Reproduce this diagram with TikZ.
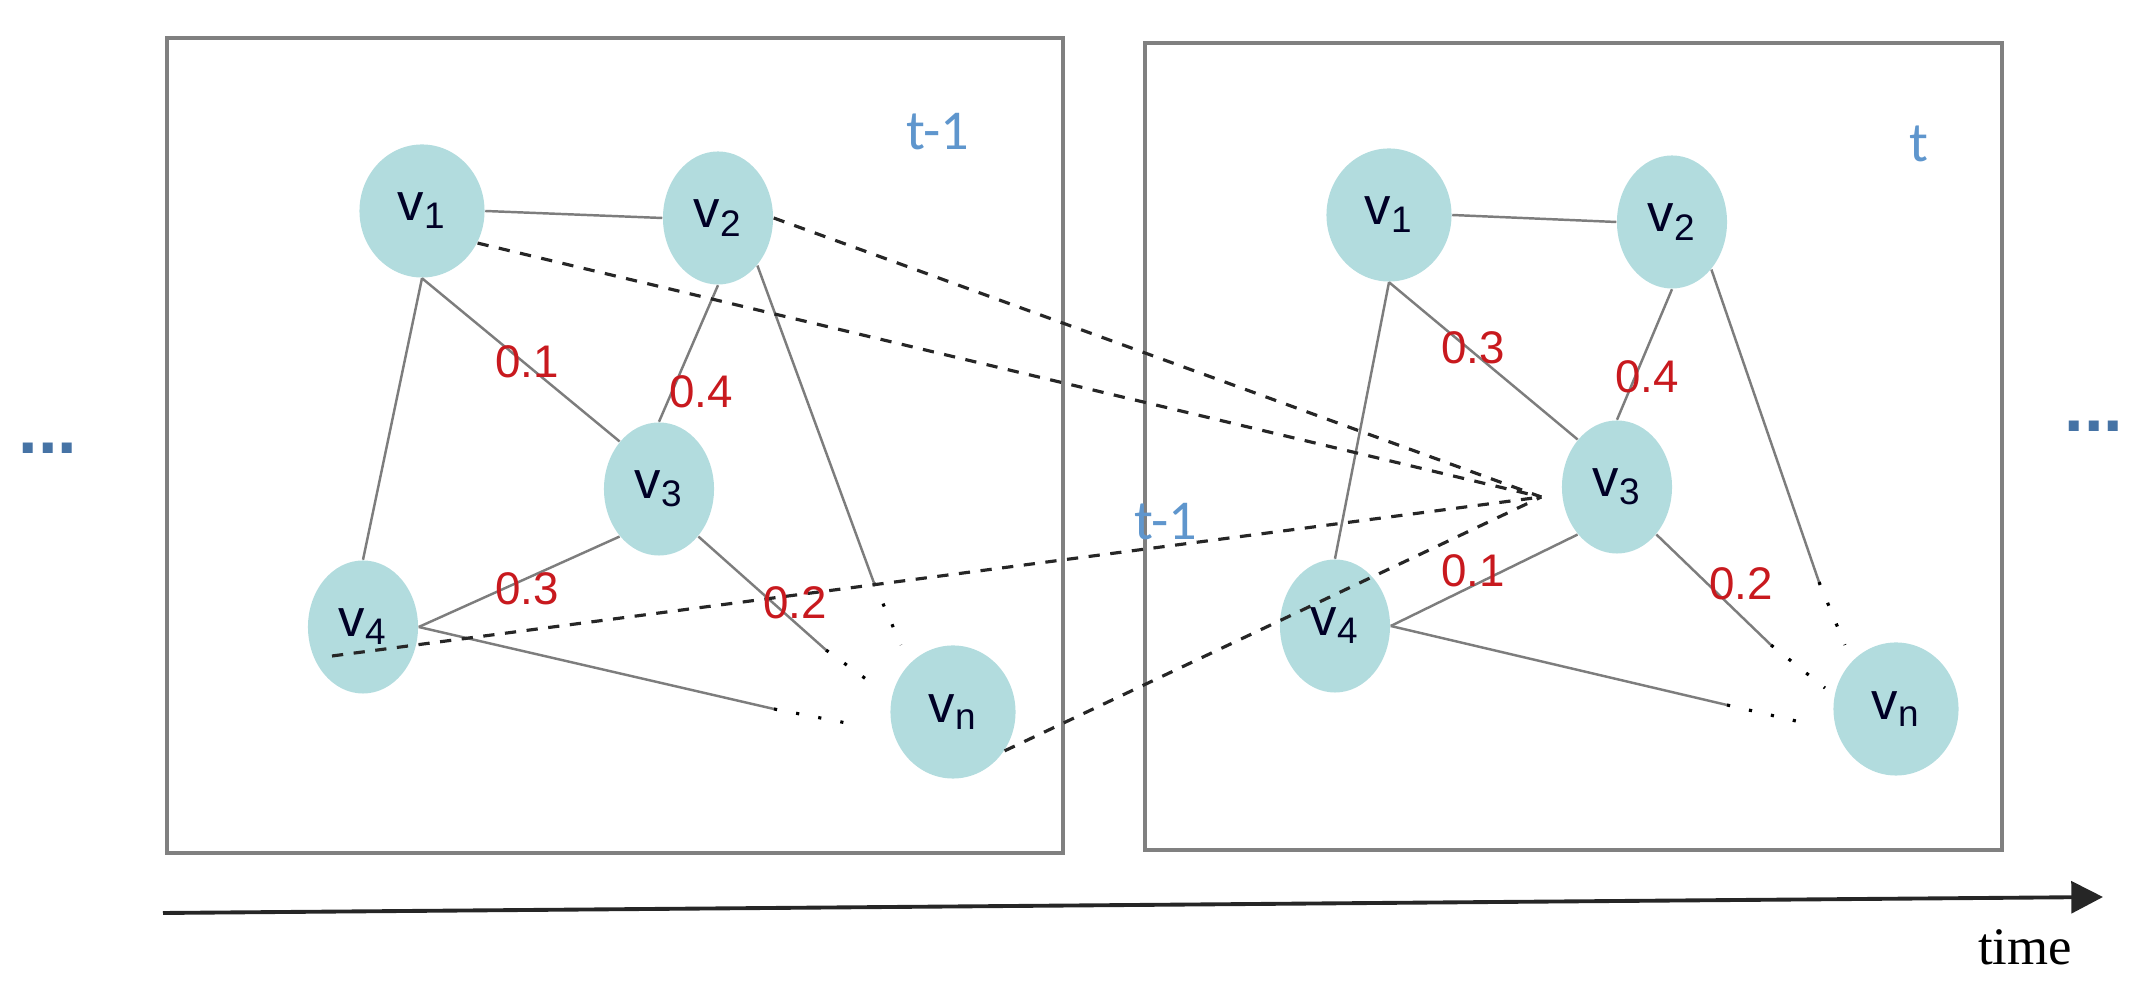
\documentclass[tikz,border=0pt]{standalone}
\usepackage{fontspec}
\setmainfont{Liberation Sans}
\newfontfamily\serifface{Liberation Serif}
\newfontfamily\stepface{Carlito}
\usepackage{xcolor}
\usetikzlibrary{calc,shapes,positioning,arrows.meta}

\definecolor{nodefill}{RGB}{178,220,222}
\definecolor{edgegray}{RGB}{125,125,125}
\definecolor{framegray}{RGB}{128,128,128}
\definecolor{weightred}{RGB}{200,25,30}
\definecolor{stepblue}{RGB}{95,150,205}
\definecolor{dotblue}{RGB}{70,115,165}

\begin{document}
\begin{tikzpicture}[x=0.01cm, y=-0.01cm,
    vert/.style={ellipse, fill=nodefill, minimum width=1.1cm, minimum height=1.33cm, inner sep=0pt, text=black!85!blue, font=\fontsize{15}{15}\selectfont},
    broad/.style={minimum width=1.25cm},
    conn/.style={draw=edgegray, line width=0.7pt},
    fade/.style={draw=black, line width=0.9pt, dash pattern=on 0.9pt off 5.5pt},
    carry/.style={draw=black!85, line width=0.9pt, dash pattern=on 3.2pt off 3pt},
    panel/.style={draw=framegray, line width=1.1pt},
    weight/.style={text=weightred, font=\fontsize{13}{13}\selectfont, inner sep=0pt},
    steplabel/.style={text=stepblue, font=\stepface\fontsize{16}{16}\selectfont, inner sep=0pt},
    timeline/.style={draw=black!85, line width=1.1pt, -{Triangle[length=9pt, width=9pt]}}]
    \useasboundingbox (0,0) rectangle (2150,986);

    % the two snapshots
    \draw[panel] (167,38) rectangle (1063,853);
    \draw[panel] (1145,43) rectangle (2002,850);

    % snapshot t-1
    \node[vert, broad] (l1) at (422,211) {v\textsubscript{1}};
    \node[vert] (l2) at (718,218) {v\textsubscript{2}};
    \node[vert] (l3) at (659,489) {v\textsubscript{3}};
    \node[vert] (l4) at (363,627) {v\textsubscript{4}};
    \node[vert, broad] (ln) at (953,712) {v\textsubscript{n}};

    % snapshot t
    \node[vert, broad] (r1) at (1389,215) {v\textsubscript{1}};
    \node[vert] (r2) at (1672,222) {v\textsubscript{2}};
    \node[vert] (r3) at (1617,487) {v\textsubscript{3}};
    \node[vert] (r4) at (1335,626) {v\textsubscript{4}};
    \node[vert, broad] (rn) at (1896,709) {v\textsubscript{n}};

    \node[steplabel] (tprev) at (938,132) {t-1};
    \node[steplabel] (tnow) at (1919,144) {t};
    \node[steplabel] (tmid) at (1166,522) {t-1};

    % edges at t-1
    \draw[conn] (l1.east) -- (l2.west);
    \draw[conn] (l1.south) -- (l4.north);
    \draw[conn] (l1.south) -- (l3.north west);
    \draw[conn] (l2.south) -- (l3.north);
    \draw[conn] (l3.south west) -- (l4.east);
    \coordinate (l2cut) at (874,583);
    \coordinate (l2end) at (901,645);
    \coordinate (l3cut) at (826,650);
    \coordinate (l3end) at (877,687);
    \coordinate (l4cut) at (774,709);
    \coordinate (l4end) at (862,726);
    \draw[conn] (l2.south east) -- (l2cut);
    \draw[fade] (l2cut) -- (l2end);
    \draw[conn] (l3.south east) -- (l3cut);
    \draw[fade] (l3cut) -- (l3end);
    \draw[conn] (l4.east) -- (l4cut);
    \draw[fade] (l4cut) -- (l4end);

    % edges at t
    \draw[conn] (r1.east) -- (r2.west);
    \draw[conn] (r1.south) -- (r4.north);
    \draw[conn] (r1.south) -- (r3.north west);
    \draw[conn] (r2.south) -- (r3.north);
    \draw[conn] (r3.south west) -- (r4.east);
    \coordinate (r2cut) at (1819,582);
    \coordinate (r2end) at (1845,645);
    \coordinate (r3cut) at (1771,645);
    \coordinate (r3end) at (1825,688);
    \coordinate (r4cut) at (1727,705);
    \coordinate (r4end) at (1809,724);
    \draw[conn] (r2.south east) -- (r2cut);
    \draw[fade] (r2cut) -- (r2end);
    \draw[conn] (r3.south east) -- (r3cut);
    \draw[fade] (r3cut) -- (r3end);
    \draw[conn] (r4.east) -- (r4cut);
    \draw[fade] (r4cut) -- (r4end);

    % links from t-1 into v3 at t
    \coordinate (meet) at ($(r3.west)+(-20,10)$);
    \coordinate (l4tail) at ($(l4)+(-31,29)$);
    \draw[carry] (l2.east) -- (meet);
    \draw[carry] (l1.-30) -- (meet);
    \draw[carry] (l4tail) -- (meet);
    \draw[carry] (ln.-37) -- (meet);

    % weights
    \node[weight] (w13) at (527,362) {0.1};
    \node[weight] (w23) at (701,392) {0.4};
    \node[weight] (w34) at (527,589) {0.3};
    \node[weight] (w3n) at (795,603) {0.2};
    \node[weight] (x13) at (1473,348) {0.3};
    \node[weight] (x23) at (1647,377) {0.4};
    \node[weight] (x34) at (1473,571) {0.1};
    \node[weight] (x3n) at (1741,584) {0.2};

    % time axis
    \node[text=dotblue, font=\fontsize{20}{20}\selectfont\bfseries] (before) at (48,448) {...};
    \node[text=dotblue, font=\fontsize{20}{20}\selectfont\bfseries] (after) at (2094,426) {...};
    \coordinate (tstart) at (163,913);
    \coordinate (tend) at (2103,897);
    \draw[timeline] (tstart) -- (tend);
    \node[font=\serifface\fontsize{15}{15}\selectfont] (timelabel) at (2025,947) {time};
\end{tikzpicture}
\end{document}
